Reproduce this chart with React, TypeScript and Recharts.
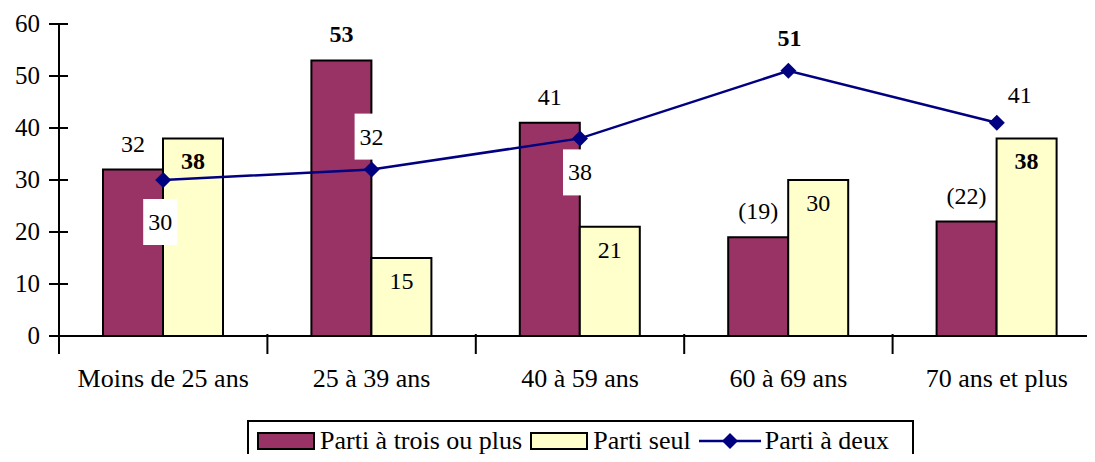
import React from "react";
import { ComposedChart, Bar, Line, XAxis, YAxis, LabelList } from "recharts";

const categories = ["Moins de 25 ans", "25 à 39 ans", "40 à 59 ans", "60 à 69 ans", "70 ans et plus"];
const troisOuPlus = [32, 53, 41, 19, 22];
const seul = [38, 15, 21, 30, 38];
const deux = [30, 32, 38, 51, 41];

// label text as printed on the chart (parentheses = small sample)
const troisLabels = ["32", "53", "41", "(19)", "(22)"];
const seulLabels = ["38", "15", "21", "30", "38"];
const deuxLabels = ["30", "32", "38", "51", "41"];
const troisBold = [false, true, false, false, false];
const seulBold = [true, false, false, false, true];
const deuxBold = [false, false, false, true, false];
const yTicks = [0, 10, 20, 30, 40, 50, 60];

// where each "Parti à deux" label sits relative to its point
const deuxPlacement: Record<number, { dx: number; dy: number }> = {
  0: { dx: -3, dy: 42 },
  1: { dx: 0, dy: -33 },
  2: { dx: 0, dy: 34 },
  3: { dx: 1, dy: -33 },
  4: { dx: 23, dy: -28 },
};

const data = categories.map((name, i) => ({
  name,
  trois: troisOuPlus[i],
  seul: seul[i],
  deux: deux[i],
}));

const FONT = "'Liberation Serif', 'Times New Roman', serif";
const PURPLE = "#993366";
const CREAM = "#FFFFCC";
const NAVY = "#000080";
const Y_AXIS_X = 59;

const YTick = ({ y, payload }: any) => (
  <g>
    <line x1={Y_AXIS_X - 10} x2={Y_AXIS_X + 9} y1={y} y2={y} stroke="#000" strokeWidth={2} />
    <text x={Y_AXIS_X - 19} y={y} dy={8} textAnchor="end" fontSize={25} fontFamily={FONT} fill="#000">
      {payload.value}
    </text>
  </g>
);

const XTick = ({ x, y, payload }: any) => {
  const half = payload.offset || 0;
  const bx = x - half;
  return (
    <g>
      <line x1={bx} x2={bx} y1={y - 10} y2={y + 10} stroke="#000" strokeWidth={2} />
      <text x={x} y={y + 43} textAnchor="middle" fontSize={26} fontFamily={FONT} fill="#000">
        {payload.value}
      </text>
    </g>
  );
};

const Diamond = ({ cx, cy }: any) => {
  if (cx == null || cy == null) return null;
  const r = 8;
  return <path d={`M${cx},${cy - r}L${cx + r},${cy}L${cx},${cy + r}L${cx - r},${cy}Z`} fill={NAVY} />;
};

const TroisLabel = ({ x, y, width, index }: any) => (
  <text
    x={x + width / 2}
    y={y - 18}
    textAnchor="middle"
    fontSize={24}
    fontFamily={FONT}
    fontWeight={troisBold[index] ? "bold" : "normal"}
    fill="#000"
  >
    {troisLabels[index]}
  </text>
);

const SeulLabel = ({ x, y, width, index }: any) => (
  <text
    x={x + width / 2}
    y={y + 31}
    textAnchor="middle"
    fontSize={24}
    fontFamily={FONT}
    fontWeight={seulBold[index] ? "bold" : "normal"}
    fill="#000"
  >
    {seulLabels[index]}
  </text>
);

const DeuxLabel = ({ x, y, index }: any) => {
  const p = deuxPlacement[index];
  const cx = x + p.dx;
  const cy = y + p.dy;
  return (
    <g>
      <rect x={cx - 17} y={cy - 23} width={34} height={46} fill="#fff" />
      <text
        x={cx}
        y={cy + 8}
        textAnchor="middle"
        fontSize={24}
        fontFamily={FONT}
        fontWeight={deuxBold[index] ? "bold" : "normal"}
        fill="#000"
      >
        {deuxLabels[index]}
      </text>
    </g>
  );
};

const legendItem: React.CSSProperties = { display: "flex", alignItems: "center" };

export default function App() {
  return (
    <div
      style={{
        position: "relative",
        width: 1095,
        height: 462,
        margin: -8,
        overflow: "hidden",
        background: "#fff",
        fontFamily: FONT,
      }}
    >
      <ComposedChart
        width={1110}
        height={462}
        data={data}
        margin={{ top: 24, right: 9, left: 0, bottom: 66 }}
        barGap={0}
        barSize={60}
      >
        <XAxis
          dataKey="name"
          height={60}
          axisLine={{ stroke: "#000", strokeWidth: 2 }}
          tickLine={false}
          tick={<XTick />}
          interval={0}
        />
        <YAxis
          width={Y_AXIS_X}
          domain={[0, 60]}
          ticks={yTicks}
          axisLine={{ stroke: "#000", strokeWidth: 2 }}
          tickLine={false}
          tick={<YTick />}
          interval={0}
        />
        <Bar dataKey="trois" fill={PURPLE} stroke="#000" strokeWidth={2} isAnimationActive={false}>
          <LabelList dataKey="trois" content={<TroisLabel />} />
        </Bar>
        <Bar dataKey="seul" fill={CREAM} stroke="#000" strokeWidth={2} isAnimationActive={false}>
          <LabelList dataKey="seul" content={<SeulLabel />} />
        </Bar>
        <Line
          dataKey="deux"
          stroke={NAVY}
          strokeWidth={2.5}
          dot={<Diamond />}
          activeDot={false}
          isAnimationActive={false}
        >
          <LabelList dataKey="deux" content={<DeuxLabel />} />
        </Line>
      </ComposedChart>
      <div
        style={{
          position: "absolute",
          left: 247,
          top: 420,
          width: 667,
          height: 60,
          border: "2px solid #000",
          background: "#fff",
          boxSizing: "border-box",
          display: "flex",
          alignItems: "flex-start",
          paddingTop: 4,
          paddingLeft: 8,
          gap: 8,
          fontSize: 26,
          lineHeight: "30px",
        }}
      >
        <div style={legendItem}>
          <span style={{ width: 54, height: 14, background: PURPLE, border: "2px solid #000", marginRight: 5 }} />
          Parti à trois ou plus
        </div>
        <div style={legendItem}>
          <span style={{ width: 54, height: 14, background: CREAM, border: "2px solid #000", marginRight: 5 }} />
          Parti seul
        </div>
        <div style={legendItem}>
          <svg width={62} height={16} style={{ marginRight: 4 }}>
            <line x1={0} x2={62} y1={8} y2={8} stroke={NAVY} strokeWidth={2.5} />
            <path d="M31,0L39,8L31,16L23,8Z" fill={NAVY} />
          </svg>
          Parti à deux
        </div>
      </div>
    </div>
  );
}
